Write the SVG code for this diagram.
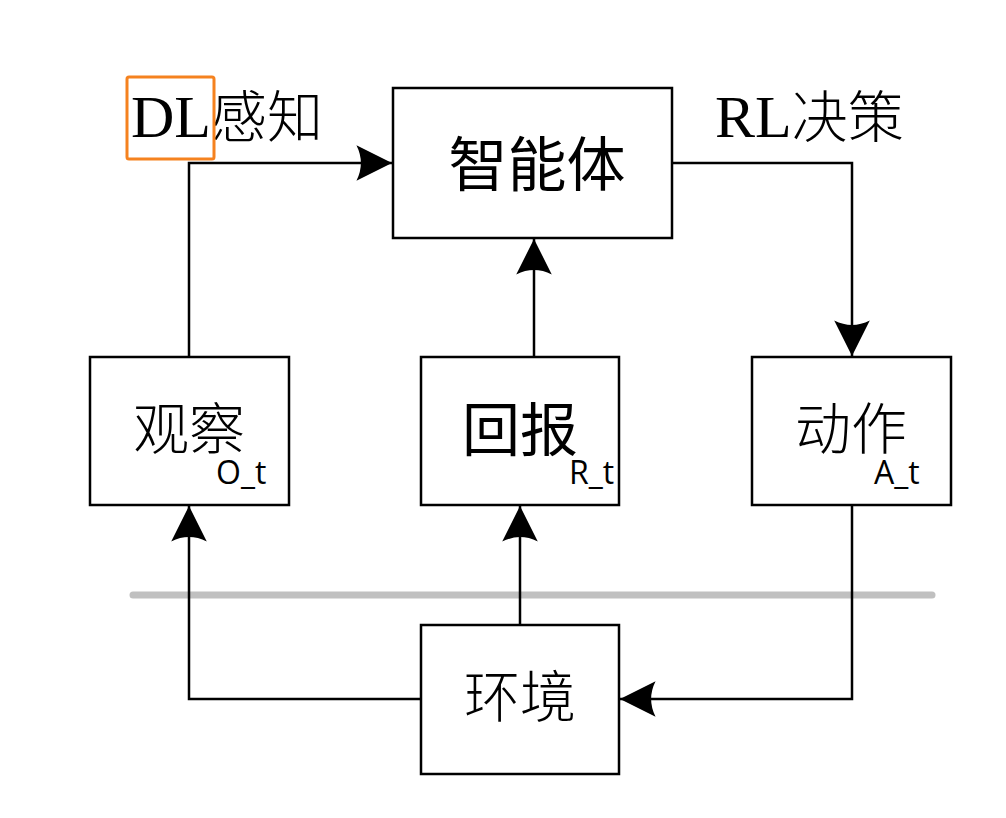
<svg xmlns="http://www.w3.org/2000/svg" width="1006" height="818" viewBox="0 0 1006 818">
<style>
.box{fill:#fff;stroke:#000;stroke-width:2.5}
.ln{fill:none;stroke:#000;stroke-width:2.5}
.cjk{font-family:"Noto Sans CJK SC","Noto Sans",sans-serif;fill:#000}
.lt{font-weight:300}
.lat{font-family:"Liberation Serif",serif;fill:#000}
.sub{font-family:"Open Sans","Noto Sans",sans-serif;font-size:32px;fill:#000}
</style>
<defs>
<marker id="ah" markerUnits="userSpaceOnUse" markerWidth="40" markerHeight="40" viewBox="-34 -18 36 36" refX="0" refY="0" orient="auto">
<path d="M0,0 L-32,-16 Q-24,0 -32,16 Z" fill="#000"/>
</marker>
</defs>
<rect width="1006" height="818" fill="#fff"/>
<line x1="133" y1="595" x2="932" y2="595" stroke="#c0c0c0" stroke-width="7" stroke-linecap="round"/>
<g id="connectors">
<path class="ln" d="M189,357 V163 H392" marker-end="url(#ah)"/>
<path class="ln" d="M534,357 V239" marker-end="url(#ah)"/>
<path class="ln" d="M672,163 H852 V356" marker-end="url(#ah)"/>
<path class="ln" d="M421,699 H189 V506" marker-end="url(#ah)"/>
<path class="ln" d="M520,625 V506" marker-end="url(#ah)"/>
<path class="ln" d="M852,505 V699 H620" marker-end="url(#ah)"/>
</g>
<g id="agent">
<rect class="box" x="393" y="88" width="279" height="150"/>
<text class="cjk" x="537" y="186" font-size="59" text-anchor="middle">智能体</text>
</g>
<g id="observation">
<rect class="box" x="90" y="357" width="199" height="148"/>
<text class="cjk lt" x="189" y="449" font-size="56" text-anchor="middle">观察</text>
<text class="sub" x="216" y="484">O_t</text>
</g>
<g id="reward">
<rect class="box" x="421" y="357" width="198" height="148"/>
<text class="cjk" x="520" y="451" font-size="58" text-anchor="middle">回报</text>
<text class="sub" x="569" y="484">R_t</text>
</g>
<g id="action">
<rect class="box" x="752" y="357" width="199" height="148"/>
<text class="cjk lt" x="851" y="449" font-size="56" text-anchor="middle">动作</text>
<text class="sub" x="874" y="484">A_t</text>
</g>
<g id="environment">
<rect class="box" x="421" y="625" width="198" height="149"/>
<text class="cjk lt" x="520" y="717" font-size="56" text-anchor="middle">环境</text>
</g>
<g id="dl-label">
<text x="131" y="137"><tspan class="lat" font-size="60">DL</tspan><tspan class="cjk lt" font-size="56">感知</tspan></text>
<rect x="127" y="77" width="87" height="82" fill="none" stroke="#F5821F" stroke-width="3" rx="2"/>
</g>
<g id="rl-label">
<text x="715" y="137"><tspan class="lat" font-size="60">RL</tspan><tspan class="cjk lt" font-size="56">决策</tspan></text>
</g>
</svg>
